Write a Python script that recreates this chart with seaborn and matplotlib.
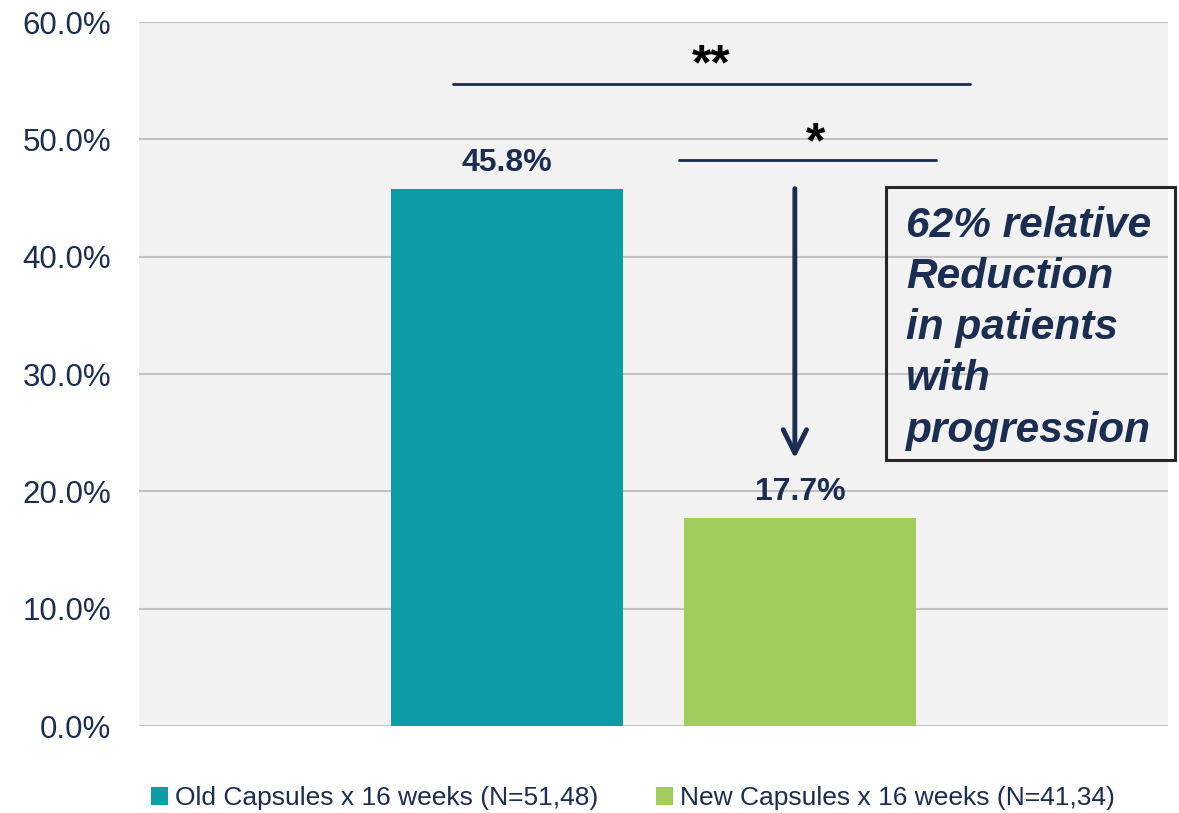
"""
Progression rate: old vs new capsules (16 weeks)
"""

import matplotlib
matplotlib.use("Agg")
import matplotlib.pyplot as plt
import seaborn as sns
import pandas as pd
from matplotlib.patches import Rectangle

# Datos
series = ["Old Capsules x 16 weeks (N=51,48)", "New Capsules x 16 weeks (N=41,34)"]
values = [45.8, 17.7]
colors = ["#0b9ca6", "#a2cd5b"]
y_ticks = [0, 10, 20, 30, 40, 50, 60]
sig_marks = ["**", "*"]
box_text = "62% relative\nReduction\nin patients\nwith\nprogression"

navy = "#1b2d50"

sns.set_theme(style="whitegrid")
plt.rcParams["font.family"] = ["Liberation Sans", "DejaVu Sans"]

df = pd.DataFrame({"group": [""] * len(series), "series": series, "value": values})

fig = plt.figure(figsize=(11.79, 8.13), dpi=100)
ax = fig.add_axes([139 / 1179, 1 - 726 / 813, 1029 / 1179, 704 / 813])
ax.set_facecolor("#f2f2f2")
ax.set_axisbelow(True)

sns.barplot(data=df, x="group", y="value", hue="series", palette=colors,
            width=0.8, gap=0.21, ax=ax, legend=True, saturation=1,
            linewidth=0, edgecolor="none")

ax.set_xlim(-0.7025, 0.7025)
ax.set_ylim(0, 60)
ax.set_yticks(y_ticks)
ax.set_yticklabels([f"{t:.1f}%" for t in y_ticks], fontsize=22.5, color=navy)
ax.set_xticks([])
ax.set_xlabel("")
ax.set_ylabel("")
ax.tick_params(axis="y", length=0, pad=20)
ax.grid(axis="y", color="#c3c3c3", linewidth=1.5)
ax.grid(axis="x", visible=False)
for s in ax.spines.values():
    s.set_visible(False)

# Etiquetas de valor
for cont in ax.containers:
    ax.bar_label(cont, labels=[f"{v:.1f}%" for v in cont.datavalues],
                 padding=8, fontsize=23, fontweight="bold", color=navy)

# Lineas de significancia
ax.plot([-0.274, 0.432], [54.7, 54.7], color=navy, lw=2)
ax.text(0.079, 54.3, sig_marks[0], ha="center", va="bottom",
        fontsize=36, fontweight="bold", color="black")
ax.plot([0.035, 0.386], [48.25, 48.25], color=navy, lw=2)
ax.text(0.221, 47.6, sig_marks[1], ha="center", va="bottom",
        fontsize=36, fontweight="bold", color="black")

# Flecha de reduccion
ax.annotate("", xy=(0.193, values[1] + 5.1), xytext=(0.193, values[0]),
            arrowprops=dict(arrowstyle="->", lw=3.5, color=navy,
                            mutation_scale=42, shrinkA=0, shrinkB=0))

# Caja de texto
fig.patches.append(Rectangle((886 / 1179, 1 - 460 / 813), 289 / 1179, 273 / 813,
                             transform=fig.transFigure, fill=False,
                             edgecolor="#262626", lw=2.2, zorder=5))
fig.text(906 / 1179, 1 - 206 / 813, box_text, ha="left", va="top",
         fontsize=30.5, fontweight="bold", fontstyle="italic", color=navy,
         linespacing=1.36)

# Leyenda
handles, labels = ax.get_legend_handles_labels()
ax.get_legend().remove()
fig.legend(handles, labels, loc="center", bbox_to_anchor=(0.537, 1 - 798 / 813),
           ncol=2, frameon=False, fontsize=19, handlelength=0.65,
           handleheight=0.65, handletextpad=0.25, columnspacing=2.2,
           labelcolor="#1b2d50")

plt.savefig("out.png", dpi=100)
plt.close()
